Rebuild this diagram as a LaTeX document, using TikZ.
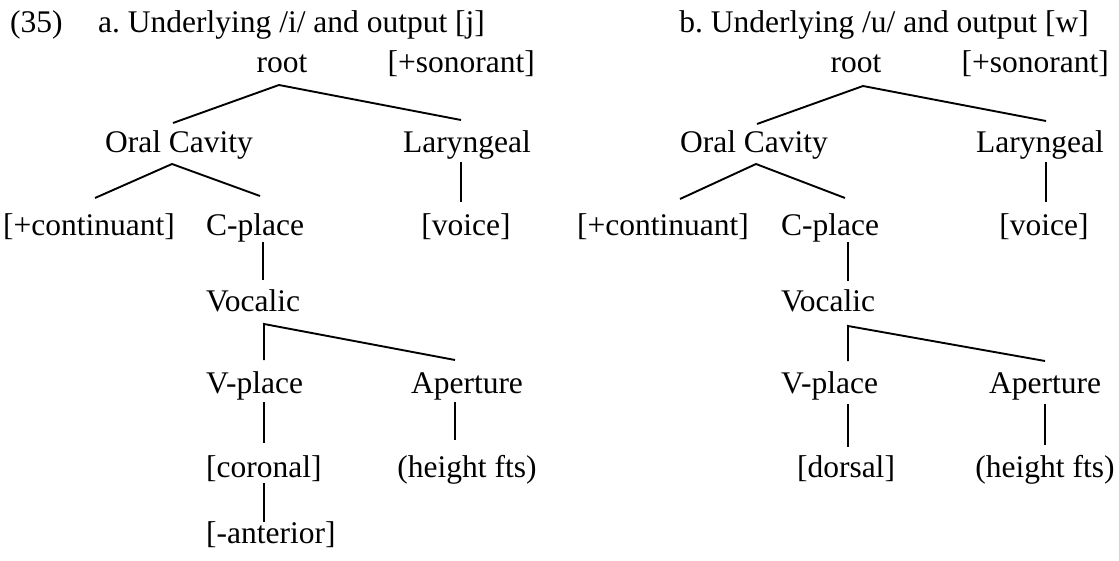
\documentclass[tikz,border=0pt]{standalone}
\usepackage{fontspec}
\setmainfont{Liberation Serif}
\frenchspacing
\begin{document}
\begin{tikzpicture}[x=1pt,y=1pt,
  lbl/.style={inner sep=0pt, font=\fontsize{31.5}{36}\selectfont, anchor=base},
  lblw/.style={lbl, anchor=base west},
  lble/.style={lbl, anchor=base east},
  branch/.style={line width=1.9pt, line cap=butt}]
\useasboundingbox (0,0) rectangle (1119,-561);
% titles
\node[lblw] (num) at (10,-33) {(35)};
\node[lblw] (ta) at (98,-33) {a. Underlying /i/ and output [j]};
\node[lble] (tb) at (1089,-33) {b. Underlying /u/ and output [w]};
% ---------- part a ----------
\node[lbl]  (a-root) at (282,-73) {root};
\node[lble] (a-son)  at (535,-73) {[+sonorant]};
\node[lbl]  (a-oc)   at (179,-153) {Oral Cavity};
\node[lbl]  (a-lar)  at (467,-153) {Laryngeal};
\node[lblw] (a-cont) at (3,-236) {[+continuant]};
\node[lblw] (a-cpl)  at (206,-236) {C-place};
\node[lbl]  (a-voi)  at (466,-236) {[voice]};
\node[lblw] (a-voc)  at (206,-312) {Vocalic};
\node[lblw] (a-vpl)  at (206,-393) {V-place};
\node[lbl]  (a-ap)   at (467,-393) {Aperture};
\node[lblw] (a-cor)  at (206,-477) {[coronal]};
\node[lbl]  (a-hf)   at (467,-477) {(height fts)};
\node[lblw] (a-ant)  at (206,-543) {[-anterior]};
\coordinate (a1) at (279,-85);  \coordinate (a2) at (173,-123); \coordinate (a3) at (461,-120);
\coordinate (a4) at (172,-164); \coordinate (a5) at (95,-198);  \coordinate (a6) at (260,-196);
\coordinate (a7) at (461,-162); \coordinate (a8) at (461,-202);
\coordinate (a9) at (263,-242); \coordinate (a10) at (263,-280);
\coordinate (a11) at (264,-324); \coordinate (a12) at (264,-360); \coordinate (a13) at (455,-360);
\coordinate (a14) at (264,-402); \coordinate (a15) at (264,-443);
\coordinate (a16) at (455,-402); \coordinate (a17) at (455,-440);
\coordinate (a18) at (264,-483); \coordinate (a19) at (264,-522);
\draw[branch] (a2) -- (a1) -- (a3);
\draw[branch] (a5) -- (a4) -- (a6);
\draw[branch] (a7) -- (a8);
\draw[branch] (a9) -- (a10);
\draw[branch] (a12) -- (a11) -- (a13);
\draw[branch] (a14) -- (a15);
\draw[branch] (a16) -- (a17);
\draw[branch] (a18) -- (a19);
% ---------- part b ----------
\node[lbl]  (b-root) at (856,-73) {root};
\node[lble] (b-son)  at (1109,-73) {[+sonorant]};
\node[lbl]  (b-oc)   at (754,-153) {Oral Cavity};
\node[lbl]  (b-lar)  at (1040,-153) {Laryngeal};
\node[lblw] (b-cont) at (577,-236) {[+continuant]};
\node[lblw] (b-cpl)  at (781,-236) {C-place};
\node[lbl]  (b-voi)  at (1044,-236) {[voice]};
\node[lblw] (b-voc)  at (781,-312) {Vocalic};
\node[lblw] (b-vpl)  at (781,-393) {V-place};
\node[lbl]  (b-ap)   at (1045,-393) {Aperture};
\node[lbl]  (b-dor)  at (846,-477) {[dorsal]};
\node[lbl]  (b-hf)   at (1045,-477) {(height fts)};
\coordinate (b1) at (863,-86);  \coordinate (b2) at (757,-124); \coordinate (b3) at (1046,-121);
\coordinate (b4) at (756,-164); \coordinate (b5) at (680,-199); \coordinate (b6) at (845,-198);
\coordinate (b7) at (1046,-162); \coordinate (b8) at (1046,-202);
\coordinate (b9) at (848,-242); \coordinate (b10) at (848,-281);
\coordinate (b11) at (848,-326); \coordinate (b12) at (848,-361); \coordinate (b13) at (1045,-361);
\coordinate (b14) at (848,-404); \coordinate (b15) at (848,-447);
\coordinate (b16) at (1045,-404); \coordinate (b17) at (1045,-445);
\draw[branch] (b2) -- (b1) -- (b3);
\draw[branch] (b5) -- (b4) -- (b6);
\draw[branch] (b7) -- (b8);
\draw[branch] (b9) -- (b10);
\draw[branch] (b12) -- (b11) -- (b13);
\draw[branch] (b14) -- (b15);
\draw[branch] (b16) -- (b17);
\end{tikzpicture}
\end{document}
